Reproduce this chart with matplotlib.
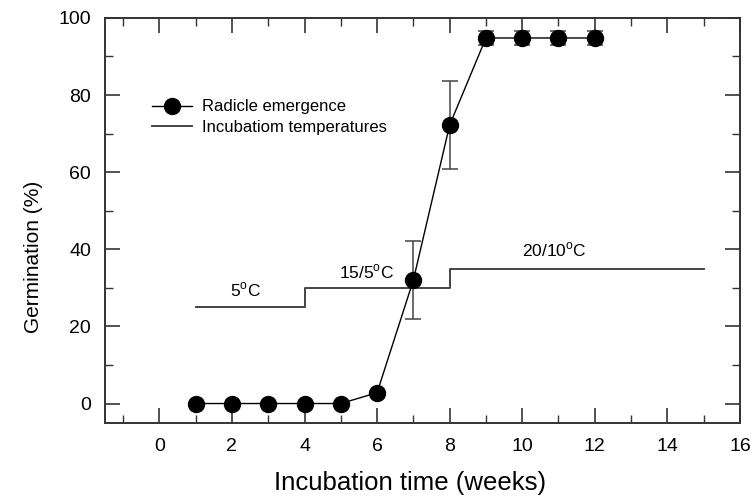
import numpy as np
import matplotlib.pyplot as plt
from matplotlib.ticker import MultipleLocator

plt.rcParams['font.family'] = ['Liberation Sans', 'DejaVu Sans']
plt.rcParams['mathtext.fontset'] = 'custom'
plt.rcParams['mathtext.rm'] = 'Liberation Sans'

# Radicle emergence data
weeks = [1, 2, 3, 4, 5, 6, 7, 8, 9, 10, 11, 12]
germination = [0, 0, 0, 0, 0, 2.8, 32, 72.2, 94.8, 94.8, 94.8, 94.8]
germ_err = [0, 0, 0, 0, 0, 0.5, 10.2, 11.5, 1.9, 1.9, 1.9, 1.9]

# Incubation temperature steps (scaled on the same axis)
temp_x = [1, 4, 4, 8, 8, 15]
temp_y = [25, 25, 30, 30, 35, 35]

temp_labels = [r'5$^{\rm o}$C', r'15/5$^{\rm o}$C', r'20/10$^{\rm o}$C']
temp_label_x = [2.37, 5.7, 10.9]
temp_label_y = [29.5, 34.2, 39.9]

fig = plt.figure(figsize=(7.55, 4.98), dpi=100)
ax = fig.add_axes([0.139, 0.151, 0.841, 0.813])

ax.errorbar(weeks, germination, yerr=germ_err, fmt='none', ecolor='#444444',
            elinewidth=1.1, capsize=5.5, capthick=1.1, zorder=2)
ax.plot(weeks, germination, color='black', linewidth=1.0, marker='o',
        markersize=11.5, markerfacecolor='black', markeredgecolor='black',
        label='Radicle emergence', zorder=3)
ax.plot(temp_x, temp_y, color='#444444', linewidth=1.4,
        label='Incubatiom temperatures', zorder=1)

for lab, tx, ty in zip(temp_labels, temp_label_x, temp_label_y):
    ax.text(tx, ty, lab, ha='center', va='center', fontsize=12.5)

ax.set_xlim(-1.5, 16)
ax.set_ylim(-5, 100)
ax.xaxis.set_major_locator(MultipleLocator(2))
ax.xaxis.set_minor_locator(MultipleLocator(1))
ax.yaxis.set_major_locator(MultipleLocator(20))
ax.yaxis.set_minor_locator(MultipleLocator(10))
ax.set_xticks(np.arange(0, 17, 2))

ax.tick_params(which='both', direction='in', top=True, right=True,
               colors='#333333', labelcolor='black', labelsize=14)
ax.tick_params(which='major', length=11, width=1.2)
ax.tick_params(which='minor', length=6, width=1.0)
ax.tick_params(axis='x', pad=11)
ax.tick_params(axis='y', pad=10)

for s in ax.spines.values():
    s.set_linewidth(1.4)
    s.set_color('#333333')

ax.set_xlabel('Incubation time (weeks)', fontsize=18.5)
ax.xaxis.set_label_coords(0.48, -0.12)
ax.set_ylabel('Germination (%)', fontsize=15)
ax.yaxis.set_label_coords(-0.097, 0.41)

ax.legend(loc='upper left', bbox_to_anchor=(0.064, 0.815), frameon=False,
          fontsize=12, handlelength=2.4, handletextpad=0.6,
          labelspacing=0.35, borderaxespad=0)

fig.savefig('out.png', dpi=100)
